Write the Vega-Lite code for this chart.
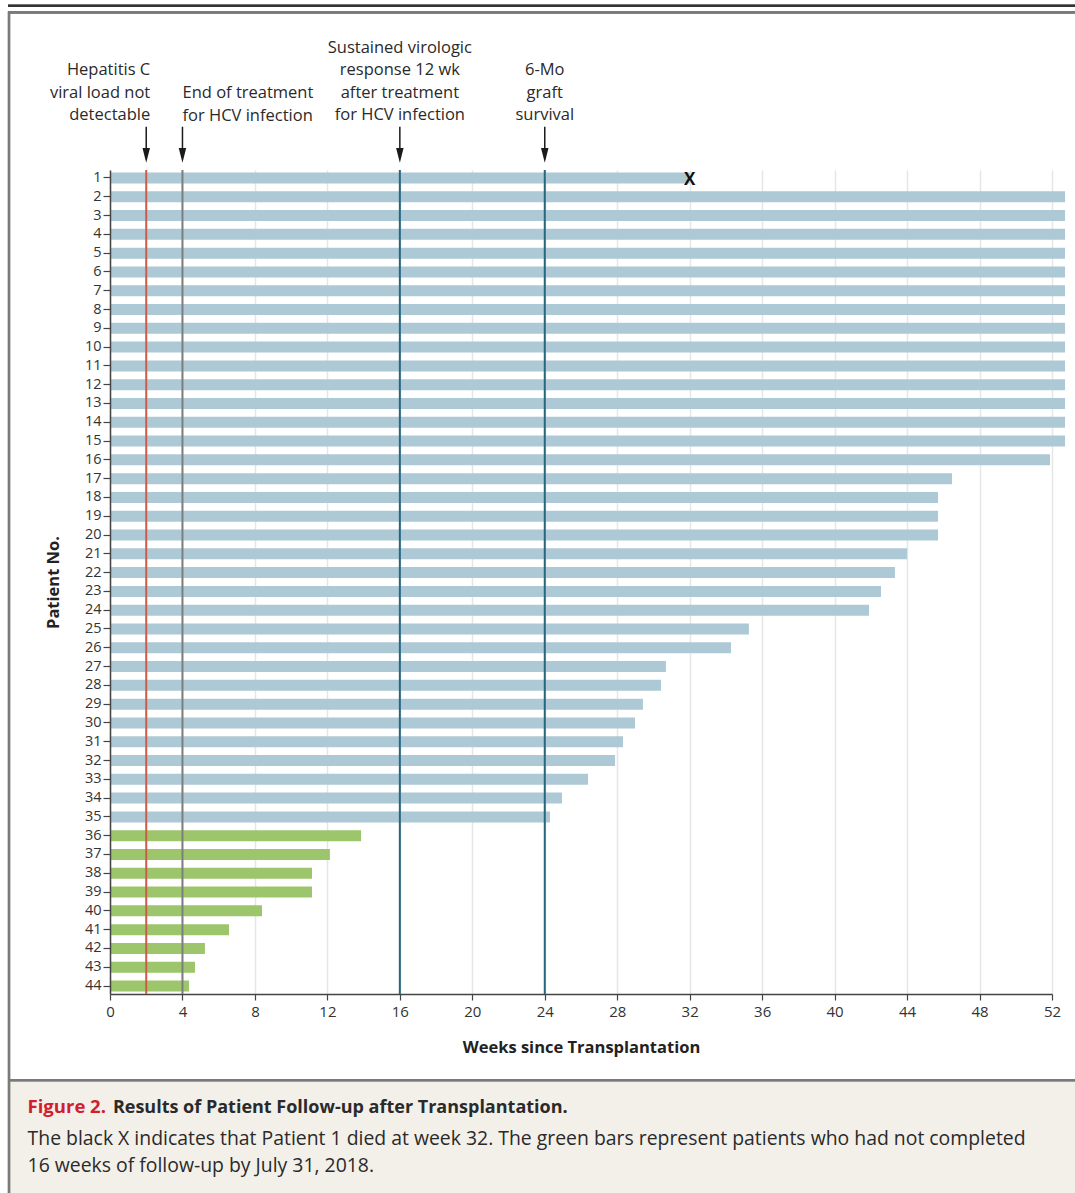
{
  "$schema": "https://vega.github.io/schema/vega-lite/v6.json",
  "width": 942,
  "height": 824,
  "autosize": {"type": "none"},
  "padding": {"left": 110, "top": 170, "right": 23, "bottom": 199},
  "background": "#ffffff",
  "config": {
    "font": "Open Sans",
    "view": {"stroke": null},
    "axis": {"labelFont": "Open Sans", "titleFont": "Open Sans"}
  },
  "datasets": {
    "patients": [
      {"patient": 1, "wk": 32.0, "status": "Completed", "died": true},
      {"patient": 2, "wk": 52.72, "status": "Completed", "died": false},
      {"patient": 3, "wk": 52.72, "status": "Completed", "died": false},
      {"patient": 4, "wk": 52.72, "status": "Completed", "died": false},
      {"patient": 5, "wk": 52.72, "status": "Completed", "died": false},
      {"patient": 6, "wk": 52.72, "status": "Completed", "died": false},
      {"patient": 7, "wk": 52.72, "status": "Completed", "died": false},
      {"patient": 8, "wk": 52.72, "status": "Completed", "died": false},
      {"patient": 9, "wk": 52.72, "status": "Completed", "died": false},
      {"patient": 10, "wk": 52.72, "status": "Completed", "died": false},
      {"patient": 11, "wk": 52.72, "status": "Completed", "died": false},
      {"patient": 12, "wk": 52.72, "status": "Completed", "died": false},
      {"patient": 13, "wk": 52.72, "status": "Completed", "died": false},
      {"patient": 14, "wk": 52.72, "status": "Completed", "died": false},
      {"patient": 15, "wk": 52.72, "status": "Completed", "died": false},
      {"patient": 16, "wk": 51.89, "status": "Completed", "died": false},
      {"patient": 17, "wk": 46.48, "status": "Completed", "died": false},
      {"patient": 18, "wk": 45.71, "status": "Completed", "died": false},
      {"patient": 19, "wk": 45.71, "status": "Completed", "died": false},
      {"patient": 20, "wk": 45.71, "status": "Completed", "died": false},
      {"patient": 21, "wk": 44.0, "status": "Completed", "died": false},
      {"patient": 22, "wk": 43.33, "status": "Completed", "died": false},
      {"patient": 23, "wk": 42.56, "status": "Completed", "died": false},
      {"patient": 24, "wk": 41.9, "status": "Completed", "died": false},
      {"patient": 25, "wk": 35.27, "status": "Completed", "died": false},
      {"patient": 26, "wk": 34.28, "status": "Completed", "died": false},
      {"patient": 27, "wk": 30.69, "status": "Completed", "died": false},
      {"patient": 28, "wk": 30.42, "status": "Completed", "died": false},
      {"patient": 29, "wk": 29.42, "status": "Completed", "died": false},
      {"patient": 30, "wk": 28.98, "status": "Completed", "died": false},
      {"patient": 31, "wk": 28.32, "status": "Completed", "died": false},
      {"patient": 32, "wk": 27.88, "status": "Completed", "died": false},
      {"patient": 33, "wk": 26.39, "status": "Completed", "died": false},
      {"patient": 34, "wk": 24.95, "status": "Completed", "died": false},
      {"patient": 35, "wk": 24.29, "status": "Completed", "died": false},
      {"patient": 36, "wk": 13.86, "status": "Not completed", "died": false},
      {"patient": 37, "wk": 12.14, "status": "Not completed", "died": false},
      {"patient": 38, "wk": 11.15, "status": "Not completed", "died": false},
      {"patient": 39, "wk": 11.15, "status": "Not completed", "died": false},
      {"patient": 40, "wk": 8.39, "status": "Not completed", "died": false},
      {"patient": 41, "wk": 6.57, "status": "Not completed", "died": false},
      {"patient": 42, "wk": 5.24, "status": "Not completed", "died": false},
      {"patient": 43, "wk": 4.69, "status": "Not completed", "died": false},
      {"patient": 44, "wk": 4.36, "status": "Not completed", "died": false}
    ],
    "events": [
      {"wk": 2, "event": "Viral load not detectable", "label": "Hepatitis C\nviral load not\ndetectable"},
      {"wk": 4, "event": "End of treatment", "label": "End of treatment\nfor HCV infection"},
      {"wk": 16, "event": "Sustained virologic response", "label": "Sustained virologic\nresponse 12 wk\nafter treatment\nfor HCV infection"},
      {"wk": 24, "event": "6-Mo graft survival", "label": "6-Mo\ngraft\nsurvival"}
    ]
  },
  "encoding": {
    "x": {
      "field": "wk",
      "type": "quantitative",
      "scale": {"domain": [0, 52], "nice": false, "zero": false},
      "axis": {
        "values": [0, 4, 8, 12, 16, 20, 24, 28, 32, 36, 40, 44, 48, 52],
        "grid": true,
        "gridColor": "#e6e6e6",
        "gridWidth": 1.5,
        "tickSize": 6,
        "tickColor": "#444444",
        "tickWidth": 1.2,
        "domainColor": "#444444",
        "domainWidth": 1.5,
        "labelFontSize": 15,
        "labelColor": "#333333",
        "labelPadding": 4,
        "labelFlush": false,
        "title": "Weeks since Transplantation",
        "titleFontSize": 16.5,
        "titleFontWeight": "bold",
        "titleColor": "#222222",
        "titlePadding": 20
      }
    }
  },
  "resolve": {"scale": {"y": "independent", "color": "independent"}},
  "layer": [
    {
      "data": {"name": "patients"},
      "encoding": {
        "y": {
          "field": "patient",
          "type": "ordinal",
          "scale": {"paddingInner": 0.415, "paddingOuter": 0.133},
          "axis": {
            "grid": false,
            "zindex": 1,
            "tickSize": 7,
            "tickColor": "#444444",
            "tickWidth": 1.2,
            "domainColor": "#444444",
            "domainWidth": 1.5,
            "labelFontSize": 14.5,
            "labelColor": "#333333",
            "labelPadding": 2,
            "title": "Patient No.",
            "titleFontSize": 16.5,
            "titleFontWeight": "bold",
            "titleColor": "#222222",
            "titlePadding": 23
          }
        }
      },
      "layer": [
        {
          "mark": {"type": "bar"},
          "encoding": {
            "color": {
              "field": "status",
              "type": "nominal",
              "scale": {"domain": ["Completed", "Not completed"], "range": ["#aec9d6", "#9dc56b"]},
              "legend": null
            }
          }
        },
        {
          "transform": [{"filter": "datum.died"}],
          "mark": {"type": "text", "text": "X", "fontWeight": "bold", "fontSize": 17, "color": "#111111", "align": "center", "baseline": "middle", "dy": 2}
        }
      ]
    },
    {
      "data": {"name": "events"},
      "mark": {"type": "rule", "strokeWidth": 2},
      "encoding": {
        "color": {
          "field": "event",
          "type": "nominal",
          "scale": {
            "domain": ["Viral load not detectable", "End of treatment", "Sustained virologic response", "6-Mo graft survival"],
            "range": ["#cf5a45", "#7d7d7d", "#28657f", "#28657f"]
          },
          "legend": null
        }
      }
    },
    {
      "data": {"name": "events"},
      "layer": [
        {
          "mark": {"type": "rect", "color": "#f3f0ea"},
          "encoding": {
            "x": {"datum": -5.52, "type": "quantitative", "scale": {"domain": [0, 52], "nice": false, "zero": false}},
            "x2": {"datum": 53.3},
            "y": {"datum": 48.65, "type": "quantitative", "scale": {"domain": [0, 44], "reverse": true, "nice": false, "zero": false}, "axis": null},
            "y2": {"datum": 54.7}
          }
        },
        {
          "mark": {"type": "rule", "color": "#333333", "strokeWidth": 2},
          "encoding": {
            "x": {"datum": -5.63, "type": "quantitative", "scale": {"domain": [0, 52], "nice": false, "zero": false}},
            "x2": {"datum": 53.3},
            "y": {"datum": -8.77, "type": "quantitative", "scale": {"domain": [0, 44], "reverse": true, "nice": false, "zero": false}, "axis": null}
          }
        },
        {
          "mark": {"type": "rule", "color": "#7a7a7a", "strokeWidth": 2.2},
          "encoding": {
            "x": {"datum": -5.63, "type": "quantitative", "scale": {"domain": [0, 52], "nice": false, "zero": false}},
            "x2": {"datum": 53.3},
            "y": {"datum": -8.42, "type": "quantitative", "scale": {"domain": [0, 44], "reverse": true, "nice": false, "zero": false}, "axis": null}
          }
        },
        {
          "mark": {"type": "rule", "color": "#7a7a7a", "strokeWidth": 2.2},
          "encoding": {
            "x": {"datum": -5.63, "type": "quantitative", "scale": {"domain": [0, 52], "nice": false, "zero": false}},
            "x2": {"datum": 53.3},
            "y": {"datum": 48.6, "type": "quantitative", "scale": {"domain": [0, 44], "reverse": true, "nice": false, "zero": false}, "axis": null}
          }
        },
        {
          "mark": {"type": "rule", "color": "#7a7a7a", "strokeWidth": 2.2},
          "encoding": {
            "x": {"datum": -5.575, "type": "quantitative", "scale": {"domain": [0, 52], "nice": false, "zero": false}},
            "y": {"datum": -8.47, "type": "quantitative", "scale": {"domain": [0, 44], "reverse": true, "nice": false, "zero": false}, "axis": null},
            "y2": {"datum": 54.7}
          }
        },
        {
          "mark": {"type": "rule", "color": "#1a1a1a", "strokeWidth": 1.5},
          "encoding": {
            "y": {"datum": -2.31, "type": "quantitative", "scale": {"domain": [0, 44], "reverse": true, "nice": false, "zero": false}, "axis": null},
            "y2": {"datum": -1.07}
          }
        },
        {
          "mark": {"type": "point", "shape": "M-0.51,-1L0.51,-1L0,1Z", "size": 216, "filled": true, "color": "#1a1a1a", "opacity": 1},
          "encoding": {
            "y": {"datum": -0.785, "type": "quantitative", "scale": {"domain": [0, 44], "reverse": true, "nice": false, "zero": false}, "axis": null}
          }
        },
        {
          "transform": [{"filter": "datum.wk == 2"}],
          "mark": {"type": "text", "align": "right", "baseline": "bottom", "dx": 4, "lineBreak": "\n", "lineHeight": 22.5, "fontSize": 16.5, "color": "#2a2a2a"},
          "encoding": {
            "y": {"datum": -4.91, "type": "quantitative", "scale": {"domain": [0, 44], "reverse": true, "nice": false, "zero": false}, "axis": null},
            "text": {"field": "label"}
          }
        },
        {
          "transform": [{"filter": "datum.wk == 4"}],
          "mark": {"type": "text", "align": "left", "baseline": "bottom", "dx": 0, "lineBreak": "\n", "lineHeight": 22.5, "fontSize": 16.5, "color": "#2a2a2a"},
          "encoding": {
            "y": {"datum": -3.68, "type": "quantitative", "scale": {"domain": [0, 44], "reverse": true, "nice": false, "zero": false}, "axis": null},
            "text": {"field": "label"}
          }
        },
        {
          "transform": [{"filter": "datum.wk == 16"}],
          "mark": {"type": "text", "align": "center", "baseline": "bottom", "lineBreak": "\n", "lineHeight": 22.5, "fontSize": 16.5, "color": "#2a2a2a"},
          "encoding": {
            "y": {"datum": -6.09, "type": "quantitative", "scale": {"domain": [0, 44], "reverse": true, "nice": false, "zero": false}, "axis": null},
            "text": {"field": "label"}
          }
        },
        {
          "transform": [{"filter": "datum.wk == 24"}],
          "mark": {"type": "text", "align": "center", "baseline": "bottom", "lineBreak": "\n", "lineHeight": 22.5, "fontSize": 16.5, "color": "#2a2a2a"},
          "encoding": {
            "y": {"datum": -4.91, "type": "quantitative", "scale": {"domain": [0, 44], "reverse": true, "nice": false, "zero": false}, "axis": null},
            "text": {"field": "label"}
          }
        },
        {
          "transform": [{"filter": "datum.wk == 2"}],
          "mark": {"type": "text", "align": "left", "baseline": "alphabetic", "fontSize": 18.5, "fontWeight": "bold", "color": "#d0202e"},
          "encoding": {
            "x": {"datum": -4.55, "type": "quantitative", "scale": {"domain": [0, 52], "nice": false, "zero": false}},
            "y": {"datum": 50.35, "type": "quantitative", "scale": {"domain": [0, 44], "reverse": true, "nice": false, "zero": false}, "axis": null},
            "text": {"value": "Figure 2."}
          }
        },
        {
          "transform": [{"filter": "datum.wk == 2"}],
          "mark": {"type": "text", "align": "left", "baseline": "alphabetic", "fontSize": 18, "fontWeight": "bold", "color": "#2a2a2a"},
          "encoding": {
            "x": {"datum": 0.16, "type": "quantitative", "scale": {"domain": [0, 52], "nice": false, "zero": false}},
            "y": {"datum": 50.35, "type": "quantitative", "scale": {"domain": [0, 44], "reverse": true, "nice": false, "zero": false}, "axis": null},
            "text": {"value": "Results of Patient Follow-up after Transplantation."}
          }
        },
        {
          "transform": [{"filter": "datum.wk == 2"}],
          "mark": {"type": "text", "align": "left", "baseline": "alphabetic", "fontSize": 19.4, "lineBreak": "\n", "lineHeight": 27, "color": "#2a2a2a"},
          "encoding": {
            "x": {"datum": -4.55, "type": "quantitative", "scale": {"domain": [0, 52], "nice": false, "zero": false}},
            "y": {"datum": 52.06, "type": "quantitative", "scale": {"domain": [0, 44], "reverse": true, "nice": false, "zero": false}, "axis": null},
            "text": {"value": "The black X indicates that Patient 1 died at week 32. The green bars represent patients who had not completed\n16 weeks of follow-up by July 31, 2018."}
          }
        }
      ]
    }
  ]
}
